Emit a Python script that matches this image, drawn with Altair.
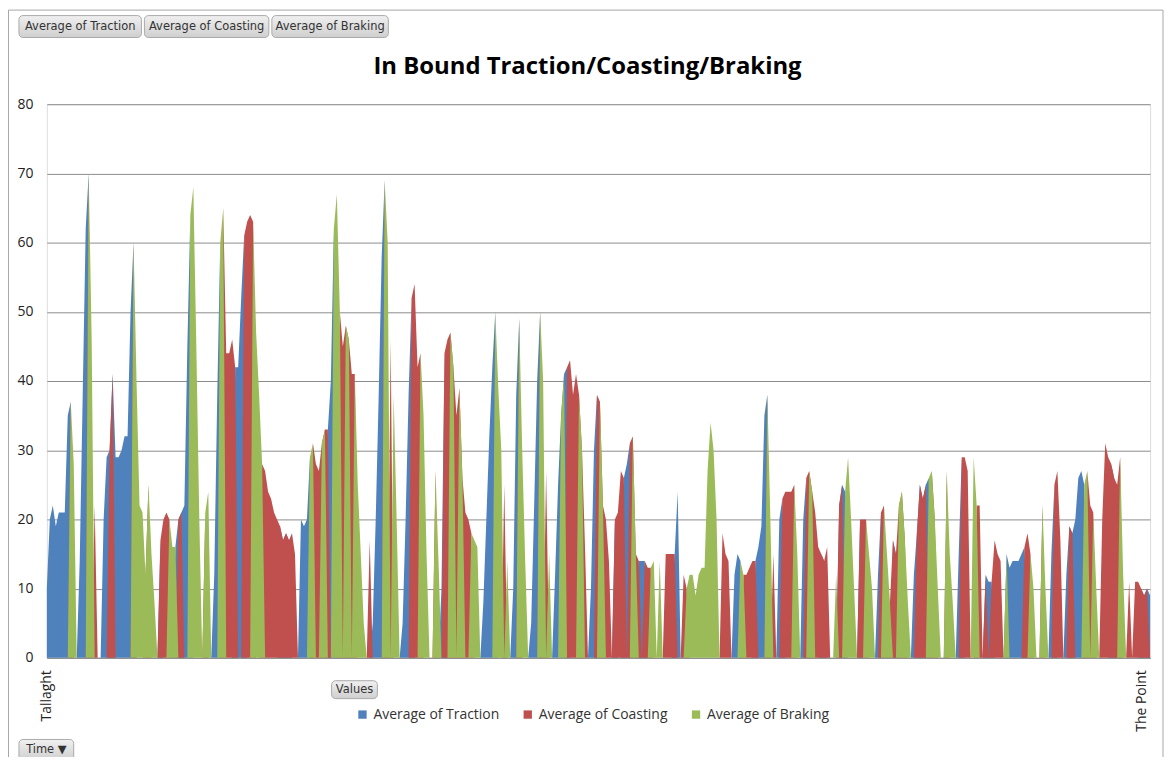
import re
import altair as alt
import pandas as pd

SERIES = ["Average of Traction", "Average of Coasting", "Average of Braking"]
COLORS = ["#4F81BD", "#C0504D", "#9BBB59"]
MODE_CODES = ["T", "C", "B"]
STOPS = ["Tallaght", "The Point"]
Y_TICKS = [0, 10, 20, 30, 40, 50, 60, 70, 80]
TITLE = "In Bound Traction/Coasting/Braking"

# speed readings per time bucket: letters = phases present in that bucket
# (T=traction, C=coasting, B=braking, Z=stopped) followed by the average speed
seg1 = ("T10 T20 T22 T19 T21 T21 T21 T35 TCB37 B28 Z0 T14 T38 T62 TCB70 B46 C22 Z0 Z0 T20 "
        "T29 TC30 CT41 T29 T29 T30 T32 T32 T50 TCB60 B40 B22 B21 BC12 CB25 B15 B8 Z0 "
        "TC17 C20 C21 CB20 B16 BT16 TC20 CT21 T22 T45 TB64 B68 B45 B20 Z0 CB21 B24 Z0 "
        "T12 T38 TB60 BC65")
seg2 = ("C44 C44 C46 CT42 T42 T52 TC61 C63 C64 CB63 B47 B38 BC28 C27 C24 C23 C21 C20 CT19 "
        "TC17 CT18 TC17 C18 C15 Z0 T20 T19 T20 TB29 BC31 C28 C27 CB31 BC33 CT33 T40 TB62 "
        "B67 BC50 C45 CB48 BC46 C41 CB41 B25 B15 B5 Z0 C17 T5 T20 T38 T58 TCB69 B60 C46 "
        "B38 B20 Z0 T5 T20 T38")
seg3 = ("TC52 C54 C42 CB44 B35 B15 Z0 Z0 CB27 B14 T10 TC44 C46 CB47 BC42 C35 CB39 BC26 C21 "
        "C20 CB18 B17 B16 Z0 T8 T20 T32 T42 TB50 B39 B30 C25 B14 Z0 T10 T38 TCB49 B30 B14 "
        "Z0 T5 T22 T40 TCB50 B40 C27 B15 Z0 T12 T25 TB35 BT41 TC42 C43 C38 C41 CB38 BC30 "
        "C16 Z0 T10 T30")
seg4 = ("TC38 CB37 BC22 C20 C14 Z0 TC20 C21 C27 CT26 T28 TC31 CB32 BC15 CT14 T14 TC14 C13 "
        "CB13 B14 Z0 B14 Z0 C15 C15 C15 CT15 T24 Z0 C12 CB10 B12 B12 B9 B12 B13 B13 B27 B34 "
        "B30 B20 Z0 C18 C15 C14 Z0 T12 T15 TB14 BC12 C12 C13 C14 CT14 T16 T19 T35 TCB38 "
        "B20 C15 Z0")
seg5 = ("T20 TC23 C24 C24 C24 CB25 B15 Z0 T20 TC26 CB27 BC24 C21 C16 CT15 TC14 C16 Z0 Z0 "
        "B12 TC22 CT25 TB24 B29 B20 B10 Z0 TC20 C20 CB20 B15 B10 Z0 T12 TC21 CB22 B15 BC8 "
        "CT17 TC15 CB22 BC24 CB17 B8 Z0 T12 TC18 CT25 TC23 CT25 TB26 BC27 CB20 B10 Z0 Z0 "
        "CB27 B15 B8 Z0 T15 TC29")
seg6 = ("C29 C27 Z0 B29 BC22 C22 Z0 CT12 T11 TC11 C17 C15 C14 Z0 BT15 T13 T14 T14 T14 T15 "
        "TC16 C18 CB15 B10 Z0 Z0 CB22 B10 Z0 T15 TC25 C27 C17 Z0 T12 TC19 CT18 T20 T26 T27 "
        "TB25 BC27 C22 CB21 B10 Z0 C20 C31 C29 CT28 TC26 C25 CB29 B12 Z0 C11 Z0 C11 C11 "
        "CT10 TC9 CT10 T9")

profile = []
for seg in (seg1, seg2, seg3, seg4, seg5, seg6):
    for tok in seg.split():
        m = re.match(r"([A-Z]+)(\d+)", tok)
        profile.append((m.group(1), int(m.group(2))))
n = len(profile)

rows = []
for i, (modes, v) in enumerate(profile):
    for code, name in zip(MODE_CODES, SERIES):
        rows.append({"idx": i, "series": name, "value": v if code in modes else 0})
df = pd.DataFrame(rows)

W, H = 1108, 556
FONT = "Open Sans"
TALLAGHT_POS, POINT_POS = 0, 366

x_enc = alt.X("idx:Q",
              scale=alt.Scale(domain=[0, n - 1], nice=False, zero=False),
              axis=alt.Axis(values=[TALLAGHT_POS, POINT_POS], title=None, grid=False, ticks=False,
                            labelAngle=-90, labelFontSize=14, labelFont=FONT,
                            labelColor="#222", labelPadding=12, labelFlush=False,
                            labelExpr=f"datum.value < {n // 2} ? '{STOPS[0]}' : '{STOPS[1]}'",
                            domainColor="#8c8c8c"))
y_enc = alt.Y("value:Q", stack=None,
              scale=alt.Scale(domain=[0, 80], nice=False),
              axis=alt.Axis(values=Y_TICKS, title=None, ticks=False, domain=False,
                            gridColor="#8c8c8c", gridWidth=1, labelFontSize=14,
                            labelFont=FONT, labelColor="#222", labelPadding=14))
c_enc = alt.Color("series:N",
                  scale=alt.Scale(domain=SERIES, range=COLORS),
                  legend=alt.Legend(orient="none", legendX=310, legendY=606,
                                    direction="horizontal", title=None,
                                    symbolType="square", symbolSize=70,
                                    symbolStrokeWidth=0, symbolOpacity=1,
                                    labelFontSize=14, labelFont=FONT, labelColor="#333",
                                    columnPadding=21, labelOffset=4))

layers = []
for s in SERIES:
    layers.append(
        alt.Chart(df).transform_filter(alt.datum.series == s)
        .mark_area(interpolate="linear", opacity=1)
        .encode(x=x_enc, y=y_enc, color=c_enc)
    )

one = pd.DataFrame({"k": [0]})

# outer chart frame
layers.append(alt.Chart(one).mark_rect(fillOpacity=0, stroke="#a6a6a6", strokeWidth=1).encode(
    x=alt.value(-38.5), x2=alt.value(1121), y=alt.value(-94.5), y2=alt.value(720)))

# title
layers.append(alt.Chart(one).mark_text(fontSize=24, fontWeight="bold", font=FONT,
                                       color="#000", align="center", baseline="middle").encode(
    x=alt.value(543), y=alt.value(-37), text=alt.value(TITLE)))

# pivot field buttons
BUTTONS = [
    ("Average of Traction", -28, 95, -89, -67),
    ("Average of Coasting", 98, 223, -89, -67),
    ("Average of Braking", 226, 343, -89, -67),
    ("Values", 286, 332, 579, 597),
    ("Time  \u25bc", -28, 27, 638, 659),
]
for label, x0, x1, y0, y1 in BUTTONS:
    layers.append(alt.Chart(one).mark_rect(
        cornerRadius=4, stroke="#a9a9a9", strokeWidth=1,
        fill=alt.Gradient(gradient="linear", x1=0, y1=0, x2=0, y2=1,
                          stops=[alt.GradientStop(color="#f0f0f0", offset=0),
                                 alt.GradientStop(color="#cfcfcf", offset=1)])
    ).encode(x=alt.value(x0), x2=alt.value(x1), y=alt.value(y0), y2=alt.value(y1)))
    layers.append(alt.Chart(one).mark_text(fontSize=11.5, font="DejaVu Sans", color="#333",
                                           align="center", baseline="middle").encode(
        x=alt.value((x0 + x1) / 2), y=alt.value((y0 + y1) / 2 + 0.5), text=alt.value(label)))

chart = alt.layer(*layers).properties(
    width=W, height=H,
    padding={"left": 39, "top": 95, "right": 16, "bottom": 98},
    autosize=alt.AutoSizeParams(type="none"),
).configure_view(stroke=None).configure(background="white")

chart.save("out.html", embed_options={"renderer": "svg", "actions": False})
